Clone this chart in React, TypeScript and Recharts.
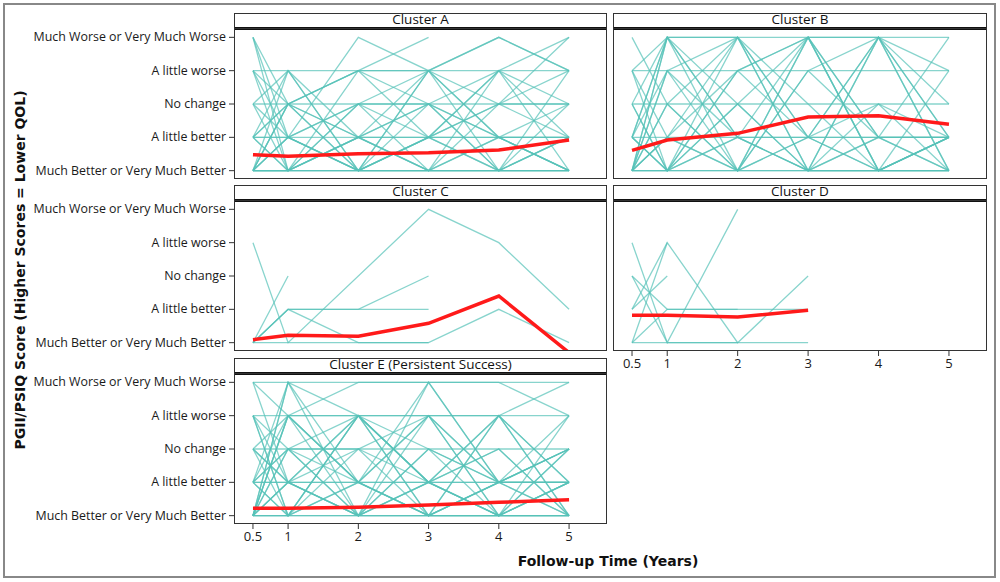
import { LineChart, Line, XAxis, YAxis } from "recharts";

// follow-up times (years) and the 5 answer levels
const TIMES = [0.5, 1, 2, 3, 4, 5];
const X_TICKS = [0.5, 1, 2, 3, 4, 5];
const Y_TICKS = [0, 1, 2, 3, 4];
const LEVEL_LABELS = [
  "Much Better or Very Much Better",
  "A little better",
  "No change",
  "A little worse",
  "Much Worse or Very Much Worse",
];

// individual patients, one value per follow-up time (null = not seen)
const clusterA = [
  [4, 0, 1, 2, 1, 0],
  [4, 1, 0, 0, 0, 0],
  [3, 3, 0, 1, 0, 1],
  [3, 2, 2, 2, 2, 2],
  [2, 3, 3, 3, 3, 3],
  [2, 0, 2, 1, 1, 0],
  [1, 1, 1, 1, 1, 1],
  [1, 3, 0, 3, 0, 0],
  [1, 2, 3, 1, 3, 2],
  [0, 0, 0, 0, 0, 0],
  [0, 1, 4, 3, 4, 3],
  [0, 2, 1, 2, 1, 1],
  [0, 3, 1, 0, 2, 3],
  [0, 0, 2, 3, 1, 1],
  [1, 0, 1, 0, 0, 0],
  [0, 1, 0, 1, 2, 4],
  [2, 2, 3, 4, null, null],
  [3, 1, 2, 0, 1, 2],
  [0, 2, 0, 2, 3, 4],
  [1, 0, 3, 3, 4, 3],
  [0, 0, 1, 1, 0, 1],
  [2, 1, 0, 0, 1, 0],
  [0, 1, 2, 2, 0, 2],
  [4, 2, 0, 1, 2, 1],
  [0, 0, 0, 3, 1, 0],
  [1, 1, 0, 0, 0, 1],
  [0, 2, 3, 2, 0, 3],
  [3, 0, 0, 1, 3, 0],
  [0, 0, 1, 0, 3, 1],
  [1, 2, 1, 3, 2, 2],
];
const meanA = [0.48, 0.43, 0.51, 0.54, 0.62, 0.92];

const clusterB = [
  [0, 4, 4, 4, 4, 4],
  [3, 3, 3, 3, 3, 3],
  [2, 2, 2, 2, 2, 2],
  [1, 1, 1, 1, 1, 1],
  [0, 0, 0, 0, 0, 0],
  [4, 2, 0, 4, 0, 1],
  [0, 4, 1, 0, 4, 3],
  [1, 0, 4, 0, 2, 1],
  [0, 3, 4, 1, 0, 0],
  [3, 0, 2, 4, 1, 1],
  [1, 4, 0, 3, 4, 0],
  [0, 1, 3, 4, 0, 1],
  [2, 0, 1, 0, 1, 1],
  [0, 2, 4, 2, 0, 1],
  [1, 3, 0, 1, 1, 0],
  [0, 0, 3, 4, 4, 2],
  [3, 4, 2, 0, 0, 0],
  [0, 1, 0, 1, 4, 1],
  [1, 0, 0, 3, 1, 1],
  [2, 4, 1, 1, 2, 0],
  [0, 0, 1, 4, 0, 3],
  [1, 4, 4, 0, 1, 0],
  [0, 3, 1, 0, 0, 1],
  [0, 2, 0, 4, 1, 4],
  [3, 1, 4, 1, 0, 0],
  [1, 0, 2, 0, 0, 1],
  [0, 1, 0, 0, 4, 0],
  [2, 0, 3, 1, 4, 1],
];
const meanB = [0.61, 0.92, 1.12, 1.61, 1.65, 1.39];

const clusterC = [
  [3, 0, null, 4, 3, 1],
  [0, 2, null, null, null, null],
  [0, 1, 1, 1, null, null],
  [0, 1, 1, 2, null, null],
  [0, 1, 0, 0, null, null],
  [0, 0, 0, 0, 1, 0],
];
const meanC = [0.09, 0.22, 0.19, 0.58, 1.4, -0.3];

const clusterD = [
  [3, 0, 4, null, null, null],
  [0, 3, 0, 2, null, null],
  [2, 1, 1, 1, null, null],
  [0, 0, 0, 0, null, null],
  [1, 2, null, null, null, null],
  [1, 3, null, null, null, null],
  [0, 1, 1, null, null, null],
  [2, 0, 0, null, null, null],
];
const meanD = [0.82, 0.82, 0.77, 0.97, null, null];

const clusterE = [
  [4, 4, 4, 4, 4, 4],
  [3, 3, 3, 3, 3, 3],
  [2, 2, 2, 2, 2, 2],
  [1, 1, 1, 1, 1, 1],
  [0, 0, 0, 0, 0, 0],
  [4, 1, 0, 2, 1, 0],
  [3, 0, 3, 0, 3, 4],
  [0, 4, 1, 3, 0, 1],
  [1, 3, 4, 4, 4, 3],
  [2, 0, 3, 1, 0, 2],
  [0, 2, 0, 4, 1, 1],
  [3, 1, 2, 0, 3, 0],
  [1, 4, 0, 1, 2, 0],
  [0, 3, 1, 0, 1, 2],
  [2, 1, 3, 3, 1, 1],
  [0, 0, 2, 1, 3, 1],
  [1, 2, 1, 0, 0, 3],
  [0, 1, 3, 2, 0, 0],
  [3, 2, 0, 1, 1, 2],
  [0, 3, 0, 3, 3, 1],
  [1, 0, 1, 0, 0, 0],
  [0, 4, 3, 1, 0, 1],
  [2, 3, 1, 1, 2, 0],
  [1, 1, 0, 2, 1, 3],
  [0, 2, 3, 0, 0, 1],
  [3, 0, 0, 0, 1, 0],
  [0, 1, 1, 4, 1, 2],
  [4, 3, 1, 0, 1, 1],
  [1, 0, 3, 1, 3, 0],
  [0, 0, 1, 3, 0, 2],
  [2, 1, 0, 0, 1, 1],
  [0, 3, 3, 1, 0, 0],
  [1, 2, 2, 3, 1, 2],
  [0, 1, 0, 1, 0, 1],
];
const meanE = [0.22, 0.22, 0.25, 0.32, 0.4, 0.48];

const COLS = [
  { x: 234, w: 373 },
  { x: 613, w: 374 },
];
const ROWS = [13, 185, 358];
const STRIP_H = 16;
const PLOT_H = 150;
const AXIS_LEFT = 30;

const TEAL = "#55c2b8";
const RED = "#ff1a1a";
const TICK_FONT = "'Open Sans', 'Liberation Sans', sans-serif";

function buildRows(subjects: (number | null)[][], mean: (number | null)[]) {
  return TIMES.map((t, i) => {
    const row: any = { t, mean: mean[i] };
    subjects.forEach((s, k) => {
      row["s" + k] = s[i];
    });
    return row;
  });
}

// plain svg text so the long level names are not wrapped
function LevelTick(props: any) {
  const { x, y, payload } = props;
  return (
    <text
      x={x}
      y={y}
      dy={4}
      textAnchor="end"
      fontSize={12.4}
      fill="#1a1a1a"
      fontFamily={TICK_FONT}
    >
      {LEVEL_LABELS[payload.value]}
    </text>
  );
}

interface PanelProps {
  title: string;
  subjects: (number | null)[][];
  mean: (number | null)[];
  col: number;
  row: number;
  showY?: boolean;
  showX?: boolean;
}

function Panel({ title, subjects, mean, col, row, showY, showX }: PanelProps) {
  const c = COLS[col];
  const top = ROWS[row];
  const data = buildRows(subjects, mean);
  const chartLeft = showY ? AXIS_LEFT : c.x;
  const chartW = showY ? c.x + c.w - AXIS_LEFT : c.w;
  const yW = showY ? c.x - AXIS_LEFT : 0;
  const chartH = PLOT_H + (showX ? 30 : 0);

  return (
    <>
      <div
        style={{
          position: "absolute",
          left: c.x,
          top,
          width: c.w,
          height: STRIP_H + 1,
          boxSizing: "border-box",
          border: "1.5px solid #333",
          borderBottom: "3px solid #111",
          textAlign: "center",
          fontSize: 13.5,
          lineHeight: "11px",
          color: "#111",
          fontFamily: TICK_FONT,
        }}
      >
        {title}
      </div>
      <div style={{ position: "absolute", left: chartLeft, top: top + STRIP_H }}>
        <LineChart
          width={chartW}
          height={chartH}
          data={data}
          margin={{ top: 0, right: 0, bottom: 0, left: 0 }}
          style={{ overflow: "visible" }}
        >
          <XAxis
            type="number"
            dataKey="t"
            domain={[0.23, 5.54]}
            ticks={X_TICKS}
            interval={0}
            allowDataOverflow
            hide={!showX}
            height={30}
            axisLine={false}
            tickLine={{ stroke: "#333" }}
            tickSize={5}
            tickMargin={3}
            tick={{ fontSize: 13, fill: "#1a1a1a", fontFamily: TICK_FONT }}
          />
          <YAxis
            type="number"
            domain={[-0.25, 4.25]}
            ticks={Y_TICKS}
            interval={0}
            allowDataOverflow
            hide={!showY}
            width={yW}
            axisLine={false}
            tickLine={{ stroke: "#333" }}
            tickSize={5}
            tickMargin={3}
            tick={<LevelTick />}
          />
          {subjects.map((_, k) => (
            <Line
              key={k}
              type="linear"
              dataKey={"s" + k}
              stroke={TEAL}
              strokeOpacity={0.7}
              strokeWidth={1.3}
              dot={false}
              connectNulls
              isAnimationActive={false}
            />
          ))}
          <Line
            type="linear"
            dataKey="mean"
            stroke={RED}
            strokeWidth={3.5}
            dot={false}
            isAnimationActive={false}
          />
        </LineChart>
      </div>
      <div
        style={{
          position: "absolute",
          left: c.x,
          top: top + STRIP_H - 1,
          width: c.w,
          height: PLOT_H + 1,
          boxSizing: "border-box",
          border: "1.5px solid #333",
          pointerEvents: "none",
        }}
      />
    </>
  );
}

export default function App() {
  return (
    <div
      style={{
        position: "absolute",
        left: 0,
        top: 0,
        width: 1000,
        height: 582,
        background: "#fff",
      }}
    >
      <div
        style={{
          position: "absolute",
          left: 3,
          top: 3,
          width: 993,
          height: 575,
          boxSizing: "border-box",
          border: "2px solid #888",
        }}
      />
      <Panel title="Cluster A" subjects={clusterA} mean={meanA} col={0} row={0} showY />
      <Panel title="Cluster B" subjects={clusterB} mean={meanB} col={1} row={0} />
      <Panel title="Cluster C" subjects={clusterC} mean={meanC} col={0} row={1} showY />
      <Panel title="Cluster D" subjects={clusterD} mean={meanD} col={1} row={1} showX />
      <Panel
        title="Cluster E (Persistent Success)"
        subjects={clusterE}
        mean={meanE}
        col={0}
        row={2}
        showY
        showX
      />
      <div
        style={{
          position: "absolute",
          left: 20,
          top: 270,
          transform: "translate(-50%, -50%) rotate(-90deg)",
          whiteSpace: "nowrap",
          fontFamily: "'DejaVu Sans', sans-serif",
          fontWeight: "bold",
          fontSize: 14,
          color: "#111",
        }}
      >
        PGII/PSIQ Score (Higher Scores = Lower QOL)
      </div>
      <div
        style={{
          position: "absolute",
          left: 608,
          top: 561,
          transform: "translate(-50%, -50%)",
          whiteSpace: "nowrap",
          fontFamily: "'DejaVu Sans', sans-serif",
          fontWeight: "bold",
          fontSize: 14,
          color: "#111",
        }}
      >
        Follow-up Time (Years)
      </div>
    </div>
  );
}
